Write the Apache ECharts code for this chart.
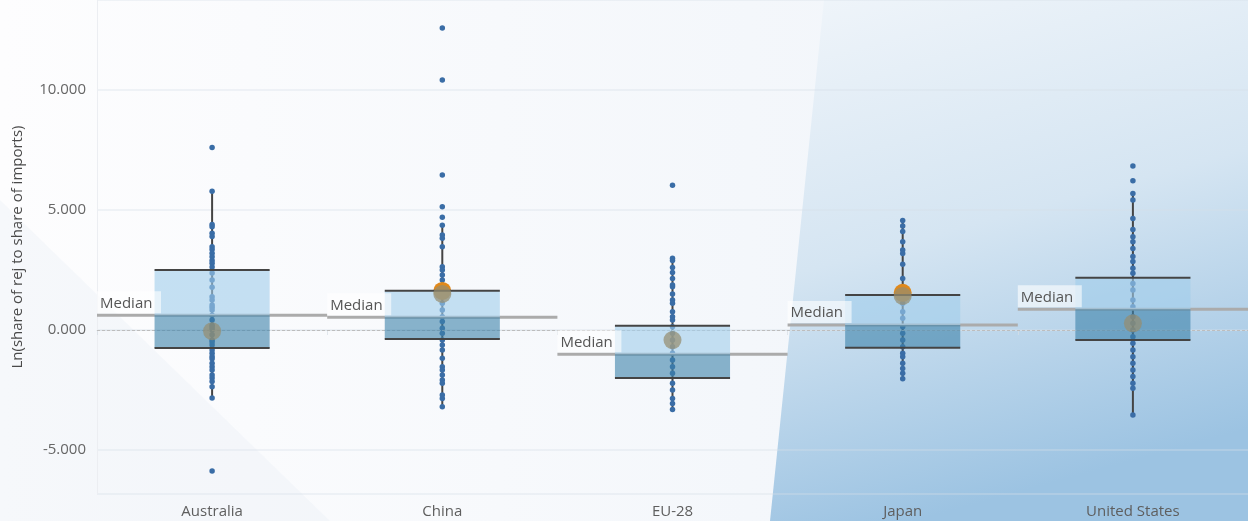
<!DOCTYPE html>
<html><head><meta charset="utf-8">
<script src="https://cdn.jsdelivr.net/npm/echarts@6/dist/echarts.min.js"></script>
<style>html,body{margin:0;padding:0;background:#fff}#c{width:1248px;height:521px}</style>
</head><body><div id="c"></div>
<script>
const categories = ['Australia', 'China', 'EU-28', 'Japan', 'United States'];
const whiskerLow  = [-2.83, -3.2, -3.31, -2.03, -3.54];
const q1          = [-0.75, -0.375, -2.0, -0.74, -0.42];
const median      = [0.61, 0.53, -1.01, 0.21, 0.86];
const q3          = [2.5, 1.64, 0.18, 1.46, 2.18];
const whiskerHigh = [5.78, 4.36, 2.99, 4.56, 5.69];
const meanValues  = [-0.05, 1.5, -0.42, 1.42, 0.28];
const orangeValues = [null, 1.63, null, 1.55, null];

const ausPoints = [7.6, 5.78, 4.4, 4.3, 4.03, 3.9, 3.47, 3.35, 3.2, 3.05, 2.9, 2.78, 2.63, 2.37, 2.08, 1.78, 1.39, 1.25, 1.04, 0.95, 0.83, 0.62, 0.42, 0.2, 0.1, 0, -0.2, -0.42, -0.5, -0.62, -0.83, -0.97, -1.1, -1.2, -1.38, -1.53, -1.67, -1.87, -2.0, -2.15, -2.36, -2.83, -5.87];
const chinaPoints = [12.58, 10.42, 6.46, 5.14, 4.7, 4.36, 3.96, 3.82, 3.47, 2.64, 2.5, 2.29, 2.08, 1.87, 1.67, 1.39, 1.11, 0.83, 0.55, 0.35, 0.07, -0.14, -0.42, -0.62, -0.83, -1.18, -1.53, -1.67, -1.87, -2.08, -2.22, -2.71, -2.85, -3.2];
const euPoints = [6.03, 2.99, 2.9, 2.6, 2.4, 2.15, 1.87, 1.8, 1.5, 1.25, 1.11, 0.76, 0.55, 0.42, 0.14, -0.14, -0.42, -0.7, -0.97, -1.25, -1.53, -1.8, -2.22, -2.5, -2.85, -3.06, -3.31];
const japanPoints = [4.56, 4.33, 4.1, 3.68, 3.33, 3.19, 2.74, 2.15, 1.8, 1.39, 1.11, 0.76, 0.49, 0.14, -0.14, -0.42, -0.7, -0.97, -1.11, -1.39, -1.6, -1.8, -2.03];
const usPoints = [6.83, 6.22, 5.69, 5.42, 4.65, 4.19, 3.89, 3.68, 3.4, 3.06, 2.85, 2.57, 2.36, 1.94, 1.67, 1.25, 0.97, 0.55, 0.28, 0, -0.28, -0.55, -0.83, -1.11, -1.39, -1.67, -1.94, -2.22, -2.43, -3.54];
const pointSets = [ausPoints, chinaPoints, euPoints, japanPoints, usPoints];

const yAxisName = 'Ln(share of rej to share of imports)';
const medianText = 'Median';
const FONT = '"Open Sans", "DejaVu Sans", sans-serif';

const pointData = [];
pointSets.forEach((arr, i) => arr.forEach(v => pointData.push([i, v])));
const whiskerData = categories.map((c, i) => [i, whiskerLow[i], whiskerHigh[i]]);
const boxData = categories.map((c, i) => [i, q1[i], median[i], q3[i]]);
const medianData = categories.map((c, i) => [i, median[i]]);
const meanData = categories.map((c, i) => [i, meanValues[i]]);
const orangeData = [];
orangeValues.forEach((v, i) => { if (v !== null) orangeData.push([i, v]); });

const chart = echarts.init(document.getElementById('c'));
chart.setOption({
  animation: false,
  backgroundColor: '#fbfcfd',
  graphic: [
    { type: 'rect', z: -100, silent: true, shape: { x: 0, y: 0, width: 1248, height: 521 },
      style: { fill: new echarts.graphic.LinearGradient(0, 0, 1, 0, [
        { offset: 0, color: '#fdfdfe' }, { offset: 1, color: '#eef3f9' }]) } },
    { type: 'polygon', z: -99, silent: true, shape: { points: [[0, 200], [0, 521], [330, 521]] },
      style: { fill: 'rgba(222,230,240,0.2)' } },
    { type: 'polygon', z: -98, silent: true, shape: { points: [[824, 0], [1248, 0], [1248, 521], [770, 521]] },
      style: { fill: new echarts.graphic.LinearGradient(0, 0, 0.3, 1, [
        { offset: 0, color: '#f0f5fa' }, { offset: 0.5, color: '#d5e5f2' }, { offset: 1, color: '#9cc3e2' }]) } }
  ],
  grid: { left: 97, right: 0, top: 0, bottom: 27 },
  xAxis: {
    type: 'category',
    data: categories,
    axisLine: { show: true, lineStyle: { color: 'rgba(215,222,230,0.7)' } },
    axisTick: { show: true, length: 5, lineStyle: { color: 'rgba(215,222,230,0.7)' } },
    axisLabel: { color: '#5e5e5e', fontSize: 15, fontFamily: FONT, margin: 10 },
    splitLine: { show: false }
  },
  yAxis: {
    type: 'value',
    min: -6.833,
    max: 13.75,
    minInterval: 5,
    maxInterval: 5,
    name: yAxisName,
    nameLocation: 'middle',
    nameGap: 72,
    nameTextStyle: { color: '#4a4a4a', fontSize: 15, fontFamily: FONT },
    axisLine: { show: true, lineStyle: { color: '#eceef2' } },
    axisTick: { show: false },
    axisLabel: { color: '#666', fontSize: 15, fontFamily: FONT, margin: 11,
      showMinLabel: false, showMaxLabel: false,
      formatter: v => v.toFixed(3) },
    splitLine: { show: true, lineStyle: { color: 'rgba(215,222,230,0.45)', width: 1.5 } }
  },
  series: [
    { type: 'custom', z: 2, data: whiskerData, encode: { x: 0, y: [1, 2] },
      renderItem: (params, api) => {
        const a = api.coord([api.value(0), api.value(1)]);
        const b = api.coord([api.value(0), api.value(2)]);
        return { type: 'line', shape: { x1: a[0], y1: a[1], x2: b[0], y2: b[1] },
          style: { stroke: '#444', lineWidth: 2 } };
      } },
    { type: 'scatter', z: 3, data: pointData, symbolSize: 5.5,
      itemStyle: { color: '#3a6da6', opacity: 1 } },
    { type: 'custom', z: 4, data: medianData, encode: { x: 0, y: 1 },
      renderItem: (params, api) => {
        const p = api.coord([api.value(0), api.value(1)]);
        const bw = api.size([1, 0])[0];
        return { type: 'line', shape: { x1: p[0] - bw / 2, y1: p[1], x2: p[0] + bw / 2, y2: p[1] },
          style: { stroke: '#ababab', lineWidth: 3 } };
      } },
    { type: 'scatter', z: 5, data: orangeData, symbolSize: 18,
      itemStyle: { color: '#e0891c', opacity: 1 } },
    { type: 'custom', z: 6, data: boxData, encode: { x: 0, y: [1, 2, 3] },
      renderItem: (params, api) => {
        const i = api.value(0);
        const pL = api.coord([i, api.value(1)]);
        const pM = api.coord([i, api.value(2)]);
        const pH = api.coord([i, api.value(3)]);
        const bw = api.size([1, 0])[0] * 0.5;
        const x = pM[0] - bw / 2;
        return { type: 'group', children: [
          { type: 'rect', shape: { x: x, y: pH[1], width: bw, height: pM[1] - pH[1] },
            style: { fill: 'rgba(160,205,235,0.6)' } },
          { type: 'rect', shape: { x: x, y: pM[1], width: bw, height: pL[1] - pM[1] },
            style: { fill: 'rgba(60,130,170,0.6)' } },
          { type: 'line', shape: { x1: x, y1: pH[1], x2: x + bw, y2: pH[1] },
            style: { stroke: '#444', lineWidth: 2 } },
          { type: 'line', shape: { x1: x, y1: pL[1], x2: x + bw, y2: pL[1] },
            style: { stroke: '#444', lineWidth: 2 } }
        ] };
      } },
    { type: 'custom', z: 7, data: medianData, encode: { x: 0, y: 1 },
      renderItem: (params, api) => {
        const p = api.coord([api.value(0), api.value(1)]);
        const bw = api.size([1, 0])[0];
        const x0 = p[0] - bw / 2;
        return { type: 'group', children: [
          { type: 'rect', shape: { x: x0, y: p[1] - 24, width: 64, height: 22 },
            style: { fill: 'rgba(255,255,255,0.6)' } },
          { type: 'text', style: { text: medianText, x: x0 + 3, y: p[1] - 12,
            fill: '#555', font: '15px ' + FONT, verticalAlign: 'middle', align: 'left' } }
        ] };
      },
      markLine: {
        silent: true, symbol: 'none', label: { show: false },
        lineStyle: { color: '#bdbdbd', width: 1, type: [3, 2] },
        data: [{ yAxis: 0 }]
      } },
    { type: 'scatter', z: 8, data: meanData, symbolSize: 18,
      itemStyle: { color: 'rgba(150,142,112,0.72)', opacity: 1 } }
  ]
});
</script></body></html>
